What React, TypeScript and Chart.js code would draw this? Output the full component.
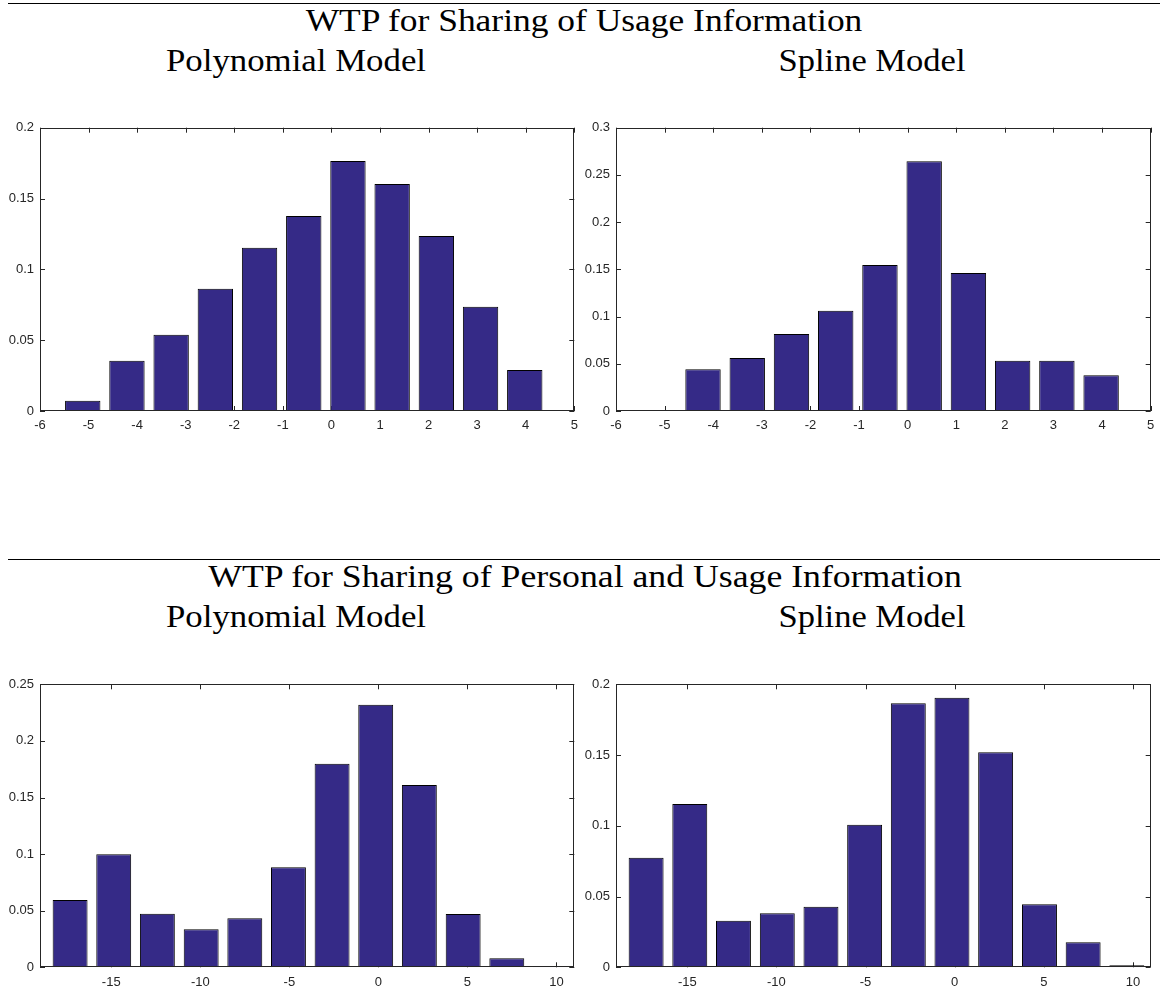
import React, { useEffect, useRef } from "react";
import { Chart, registerables } from "chart.js";

Chart.register(...registerables);

// ---------- data ----------
const usageBinCenters = [-6.03, -5.12, -4.21, -3.3, -2.39, -1.48, -0.57, 0.34, 1.25, 2.16, 3.07, 3.98];
const personalBinCenters = [-17.31, -14.86, -12.41, -9.95, -7.5, -5.05, -2.6, -0.15, 2.3, 4.76, 7.21, 9.66];

const usagePolynomial = [0.0004, 0.0073, 0.0355, 0.0539, 0.0863, 0.1153, 0.1376, 0.1765, 0.1602, 0.1235, 0.0736, 0.0289];
const usageSpline = [0, 0, 0.0441, 0.0561, 0.0815, 0.1062, 0.1546, 0.2644, 0.1461, 0.0533, 0.0533, 0.0378];
const personalPolynomial = [0.0595, 0.0998, 0.0474, 0.0336, 0.0433, 0.0883, 0.1799, 0.232, 0.161, 0.0471, 0.008, 0.001];
const personalSpline = [0.0775, 0.1154, 0.0329, 0.0382, 0.0428, 0.1008, 0.1866, 0.1905, 0.1519, 0.0445, 0.0177, 0.0014];

const usageXTicks = [-6, -5, -4, -3, -2, -1, 0, 1, 2, 3, 4, 5];
const personalXTicks = [-15, -10, -5, 0, 5, 10];
const yTicks02 = [0, 0.05, 0.1, 0.15, 0.2];
const yTicks03 = [0, 0.05, 0.1, 0.15, 0.2, 0.25, 0.3];
const yTicks025 = [0, 0.05, 0.1, 0.15, 0.2, 0.25];

const sectionTitles = ["WTP for Sharing of Usage Information", "WTP for Sharing of Personal and Usage Information"];
const modelTitles = ["Polynomial Model", "Spline Model"];

// ---------- style ----------
const BAR_FILL = "rgb(53,42,135)";
const AXIS_COLOR = "#262626";
const TICK_FONT = { family: "'Liberation Sans', Arial, sans-serif", size: 13 };
const TITLE_FONT = "'Liberation Serif', 'Times New Roman', serif";

const fmt = (v: number) => String(Math.round(v * 10000) / 10000);

const boxPlugin = {
  id: "matlabBox",
  beforeDatasetsDraw(chart: any) {
    const { ctx, chartArea: a, scales } = chart;
    const len = 5;
    ctx.save();
    ctx.strokeStyle = AXIS_COLOR;
    ctx.lineWidth = 1;
    ctx.beginPath();
    scales.x.ticks.forEach((t: any) => {
      const px = Math.round(scales.x.getPixelForValue(t.value)) + 0.5;
      ctx.moveTo(px, a.bottom);
      ctx.lineTo(px, a.bottom - len);
      ctx.moveTo(px, a.top);
      ctx.lineTo(px, a.top + len);
    });
    scales.y.ticks.forEach((t: any) => {
      const py = Math.round(scales.y.getPixelForValue(t.value)) + 0.5;
      ctx.moveTo(a.left, py);
      ctx.lineTo(a.left + len, py);
      ctx.moveTo(a.right, py);
      ctx.lineTo(a.right - len, py);
    });
    ctx.stroke();
    ctx.restore();
  },
  afterDatasetsDraw(chart: any) {
    const { ctx, chartArea: a } = chart;
    ctx.save();
    ctx.strokeStyle = AXIS_COLOR;
    ctx.lineWidth = 1;
    const l = Math.round(a.left) + 0.5;
    const r = Math.round(a.right) - 0.5;
    const t = Math.round(a.top) + 0.5;
    const b = Math.round(a.bottom) - 0.5;
    ctx.strokeRect(l, t, r - l, b - t);
    ctx.restore();
  },
};

type PanelCfg = {
  left: number; top: number; w: number; h: number;
  padTop: number; padRight: number; yW: number; xH: number;
  centers: number[]; values: number[];
  xMin: number; xMax: number; xTicks: number[];
  yMax: number; yTicks: number[];
};

function Panel({ cfg }: { cfg: PanelCfg }) {
  const ref = useRef<HTMLCanvasElement>(null);
  useEffect(() => {
    if (!ref.current) return;
    const chart = new Chart(ref.current, {
      type: "bar",
      data: {
        datasets: [
          {
            data: cfg.centers.map((c, i) => ({ x: c, y: cfg.values[i] })),
            backgroundColor: BAR_FILL,
            borderColor: "#000000",
            borderWidth: 1,
            barPercentage: 0.8,
            categoryPercentage: 1,
          } as any,
        ],
      },
      options: {
        animation: false,
        responsive: false,
        maintainAspectRatio: false,
        layout: { padding: { top: cfg.padTop, right: cfg.padRight, left: 0, bottom: 0 } },
        plugins: { legend: { display: false }, tooltip: { enabled: false } },
        scales: {
          x: {
            type: "linear",
            min: cfg.xMin,
            max: cfg.xMax,
            offset: false,
            grid: { display: false, drawTicks: false },
            border: { display: false },
            ticks: { font: TICK_FONT, color: AXIS_COLOR, padding: 7, maxRotation: 0, autoSkip: false, callback: (v: any) => fmt(Number(v)) },
            afterBuildTicks: (s: any) => { s.ticks = cfg.xTicks.map((v) => ({ value: v })); },
            afterFit: (s: any) => { s.height = cfg.xH; },
          },
          y: {
            type: "linear",
            min: 0,
            max: cfg.yMax,
            grid: { display: false, drawTicks: false },
            border: { display: false },
            ticks: { font: TICK_FONT, color: AXIS_COLOR, padding: 6, autoSkip: false, callback: (v: any) => fmt(Number(v)) },
            afterBuildTicks: (s: any) => { s.ticks = cfg.yTicks.map((v) => ({ value: v })); },
            afterFit: (s: any) => { s.width = cfg.yW; },
          },
        },
      } as any,
      plugins: [boxPlugin],
    });
    return () => chart.destroy();
  }, []);
  return (
    <canvas
      ref={ref}
      width={cfg.w}
      height={cfg.h}
      style={{ position: "absolute", left: cfg.left, top: cfg.top, width: cfg.w, height: cfg.h }}
    />
  );
}

function Title({ text, cx, baseline, targetW }: { text: string; cx: number; baseline: number; targetW: number }) {
  const size = 32;
  let scale = 1;
  try {
    const c = document.createElement("canvas").getContext("2d");
    if (c) {
      c.font = `${size}px ${TITLE_FONT}`;
      const w = c.measureText(text).width;
      if (w > 0) scale = targetW / w;
    }
  } catch (e) {}
  return (
    <div
      style={{
        position: "absolute",
        left: cx,
        top: baseline - 0.8615 * size,
        fontFamily: TITLE_FONT,
        fontSize: size,
        lineHeight: `${size}px`,
        whiteSpace: "nowrap",
        color: "#000",
        transform: `translateX(-50%) scaleX(${scale})`,
        transformOrigin: "center",
      }}
    >
      {text}
    </div>
  );
}

export default function App() {
  const panels: PanelCfg[] = [
    { left: 0, top: 110, w: 590, h: 330, padTop: 17.7, padRight: 15.7, yW: 40, xH: 29, centers: usageBinCenters, values: usagePolynomial, xMin: -6, xMax: 5, xTicks: usageXTicks, yMax: 0.2, yTicks: yTicks02 },
    { left: 576, top: 110, w: 587, h: 330, padTop: 17.7, padRight: 12.3, yW: 40, xH: 29, centers: usageBinCenters, values: usageSpline, xMin: -6, xMax: 5, xTicks: usageXTicks, yMax: 0.3, yTicks: yTicks03 },
    { left: 0, top: 667, w: 590, h: 324, padTop: 17.3, padRight: 15.7, yW: 40, xH: 23.7, centers: personalBinCenters, values: personalPolynomial, xMin: -19, xMax: 11, xTicks: personalXTicks, yMax: 0.25, yTicks: yTicks025 },
    { left: 576, top: 667, w: 587, h: 324, padTop: 17.3, padRight: 12.3, yW: 40, xH: 23.7, centers: personalBinCenters, values: personalSpline, xMin: -19, xMax: 11, xTicks: personalXTicks, yMax: 0.2, yTicks: yTicks02 },
  ];
  return (
    <div style={{ position: "absolute", left: 0, top: 0, width: 1163, height: 991, background: "#fff", overflow: "hidden" }}>
      <div style={{ position: "absolute", left: 8, top: 3, width: 1152, height: 1, background: "#000" }} />
      <div style={{ position: "absolute", left: 8, top: 559, width: 1152, height: 1, background: "#000" }} />
      <Title text={sectionTitles[0]} cx={584} baseline={32} targetW={558} />
      <Title text={modelTitles[0]} cx={296} baseline={72} targetW={260} />
      <Title text={modelTitles[1]} cx={871.5} baseline={72} targetW={187} />
      <Title text={sectionTitles[1]} cx={584.5} baseline={588} targetW={755} />
      <Title text={modelTitles[0]} cx={296} baseline={628} targetW={260} />
      <Title text={modelTitles[1]} cx={871.5} baseline={628} targetW={187} />
      {panels.map((p, i) => (
        <Panel key={i} cfg={p} />
      ))}
    </div>
  );
}
